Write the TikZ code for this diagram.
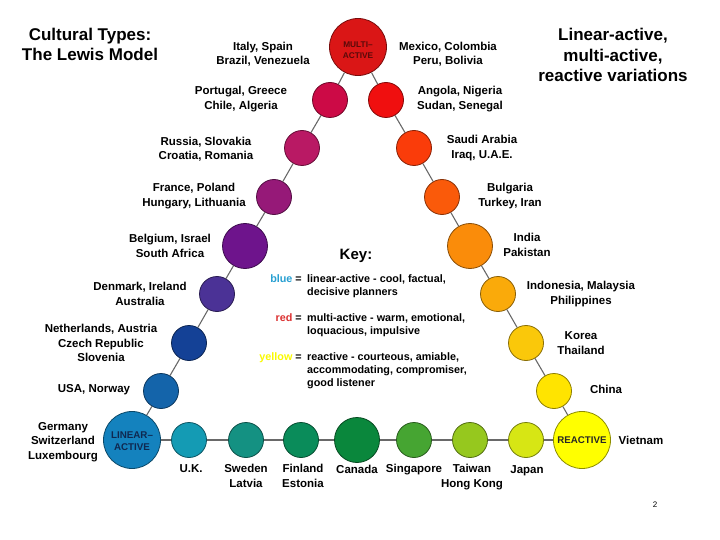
\documentclass[tikz,border=0pt]{standalone}
\usepackage{fontspec}
\setmainfont{Liberation Sans}
\definecolor{cMulti}{RGB}{218,22,22}
\definecolor{cPort}{RGB}{204,10,70}
\definecolor{cRuss}{RGB}{185,25,100}
\definecolor{cFran}{RGB}{150,25,120}
\definecolor{cBelg}{RGB}{110,20,140}
\definecolor{cDenm}{RGB}{75,50,150}
\definecolor{cNeth}{RGB}{20,65,150}
\definecolor{cUSA}{RGB}{20,100,170}
\definecolor{cLin}{RGB}{20,130,190}
\definecolor{cUK}{RGB}{20,155,180}
\definecolor{cSwe}{RGB}{20,145,130}
\definecolor{cFin}{RGB}{10,140,90}
\definecolor{cCan}{RGB}{10,135,60}
\definecolor{cSing}{RGB}{70,165,50}
\definecolor{cTai}{RGB}{150,200,30}
\definecolor{cJap}{RGB}{215,230,20}
\definecolor{cReac}{RGB}{255,255,0}
\definecolor{cChin}{RGB}{255,228,0}
\definecolor{cKor}{RGB}{250,200,10}
\definecolor{cIndo}{RGB}{250,170,10}
\definecolor{cInd}{RGB}{250,140,10}
\definecolor{cBulg}{RGB}{250,90,10}
\definecolor{cSaud}{RGB}{250,60,10}
\definecolor{cAng}{RGB}{240,15,15}
\definecolor{keyblue}{RGB}{40,160,210}
\definecolor{keyred}{RGB}{220,50,50}
\definecolor{keyyellow}{RGB}{250,250,0}
\definecolor{conncol}{RGB}{105,105,105}
\definecolor{multitext}{RGB}{90,10,10}
\definecolor{lintext}{RGB}{15,40,80}
\begin{document}
\begin{tikzpicture}[x=1pt,y=-1pt,
  dot/.style={circle, draw=#1!55!black, fill=#1, line width=0.8pt, inner sep=0pt, minimum size=35pt},
  big/.style={minimum size=57pt},
  mid/.style={minimum size=45pt},
  conn/.style={draw=conncol, line width=1.1pt},
  lab/.style={font=\bfseries\fontsize{11.5}{14.5}\selectfont, align=center, inner sep=0pt},
  title/.style={font=\bfseries\fontsize{17}{20}\selectfont, align=center, inner sep=0pt},
  keyt/.style={font=\bfseries\fontsize{10.8}{13}\selectfont, align=left, inner sep=0pt, anchor=north west},
  keyw/.style={font=\bfseries\fontsize{10.8}{13}\selectfont, inner sep=0pt, anchor=north east}]
\useasboundingbox[fill=white] (0,0) rectangle (720,540);

% titles
\node[title] (t1) at (90,44) {Cultural Types:\\The Lewis Model};
\node[title, font=\bfseries\fontsize{17}{20.5}\selectfont] (t2) at (613,55) {Linear-active,\\multi-active,\\reactive variations};

% circles
\node[dot=cMulti, big] (multi) at (358,47) {};
\node[dot=cPort] (port) at (330,100) {};
\node[dot=cRuss] (russ) at (302,148) {};
\node[dot=cFran] (fran) at (274,197) {};
\node[dot=cBelg, mid] (belg) at (245,246) {};
\node[dot=cDenm] (denm) at (217,294) {};
\node[dot=cNeth] (neth) at (189,343) {};
\node[dot=cUSA] (usa) at (161,391) {};
\node[dot=cLin, big] (lin) at (132,440) {};
\node[dot=cUK] (uk) at (189,440) {};
\node[dot=cSwe] (swe) at (246,440) {};
\node[dot=cFin] (fin) at (301,440) {};
\node[dot=cCan, mid] (can) at (357,440) {};
\node[dot=cSing] (sing) at (414,440) {};
\node[dot=cTai] (tai) at (470,440) {};
\node[dot=cJap] (jap) at (526,440) {};
\node[dot=cReac, big] (reac) at (582,440) {};
\node[dot=cChin] (chin) at (554,391) {};
\node[dot=cKor] (kor) at (526,343) {};
\node[dot=cIndo] (indo) at (498,294) {};
\node[dot=cInd, mid] (ind) at (470,246) {};
\node[dot=cBulg] (bulg) at (442,197) {};
\node[dot=cSaud] (saud) at (414,148) {};
\node[dot=cAng] (ang) at (386,100) {};

% circle texts
\node[font=\bfseries\fontsize{8.3}{10.5}\selectfont, align=center, text=multitext, inner sep=0pt] (multiT) at ([yshift=-3pt]multi.center) {MULTI–\\ACTIVE};
\node[font=\bfseries\fontsize{9.8}{11.5}\selectfont, align=center, text=lintext, inner sep=0pt] (linT) at ([yshift=-1pt]lin.center) {LINEAR–\\ACTIVE};
\node[font=\bfseries\fontsize{9.7}{11}\selectfont, text=black!85, inner sep=0pt] (reacT) at (reac) {REACTIVE};

% connectors
\path[conn] (multi) -- (port) -- (russ) -- (fran) -- (belg) -- (denm) -- (neth) -- (usa) -- (lin);
\path[conn] (lin) -- (uk) -- (swe) -- (fin) -- (can) -- (sing) -- (tai) -- (jap) -- (reac);
\path[conn] (reac) -- (chin) -- (kor) -- (indo) -- (ind) -- (bulg) -- (saud) -- (ang) -- (multi);

% country labels
\node[lab] (lItaly) at (263,54) {Italy, Spain\\Brazil, Venezuela};
\node[lab] (lMex) at (448,54) {Mexico, Colombia\\Peru, Bolivia};
\node[lab] (lPort) at (241,99) {Portugal, Greece\\Chile, Algeria};
\node[lab] (lAng) at (460,99) {Angola, Nigeria\\Sudan, Senegal};
\node[lab] (lRuss) at (206,149) {Russia, Slovakia\\Croatia, Romania};
\node[lab] (lSaud) at (482,148) {Saudi Arabia\\Iraq, U.A.E.};
\node[lab] (lFran) at (194,196) {France, Poland\\Hungary, Lithuania};
\node[lab] (lBulg) at (510,196) {Bulgaria\\Turkey, Iran};
\node[lab] (lBelg) at (170,246) {Belgium, Israel\\South Africa};
\node[lab] (lInd) at (527,245) {India\\Pakistan};
\node[lab] (lDenm) at (140,294) {Denmark, Ireland\\Australia};
\node[lab] (lIndo) at (581,294) {Indonesia, Malaysia\\Philippines};
\node[lab] (lNeth) at (101,343) {Netherlands, Austria\\Czech Republic\\Slovenia};
\node[lab] (lKor) at (581,343) {Korea\\Thailand};
\node[lab] (lUSA) at (94,390) {USA, Norway};
\node[lab] (lChin) at (606,389) {China};
\node[lab] (lGer) at (63,442) {Germany\\Switzerland\\Luxembourg};
\node[lab] (lViet) at (641,440) {Vietnam};
\node[lab] (lUK) at (191,469) {U.K.};
\node[lab] (lSwe) at (246,476) {Sweden\\Latvia};
\node[lab] (lFin) at (303,476) {Finland\\Estonia};
\node[lab] (lCan) at (357,469) {Canada};
\node[lab] (lSing) at (414,470) {Singapore};
\node[lab] (lTai) at (472,477) {Taiwan\\Hong Kong};
\node[lab] (lJap) at (527,471) {Japan};

% key
\node[font=\bfseries\fontsize{15}{18}\selectfont, inner sep=0pt] (key) at (356,256) {Key:};
\node[keyw] (kb) at (302,274) {\textcolor{keyblue}{blue} =};
\node[keyt] (kbt) at (307,274) {linear-active - cool, factual,\\decisive planners};
\node[keyw] (kr) at (302,313) {\textcolor{keyred}{red} =};
\node[keyt] (krt) at (307,313) {multi-active - warm, emotional,\\loquacious, impulsive};
\node[keyw] (ky) at (302,352) {\textcolor{keyyellow}{yellow} =};
\node[keyt] (kyt) at (307,352) {reactive - courteous, amiable,\\accommodating, compromiser,\\good listener};

% page number
\node[font=\fontsize{8}{9}\selectfont, inner sep=0pt] (pg) at (655,505) {2};
\end{tikzpicture}
\end{document}
